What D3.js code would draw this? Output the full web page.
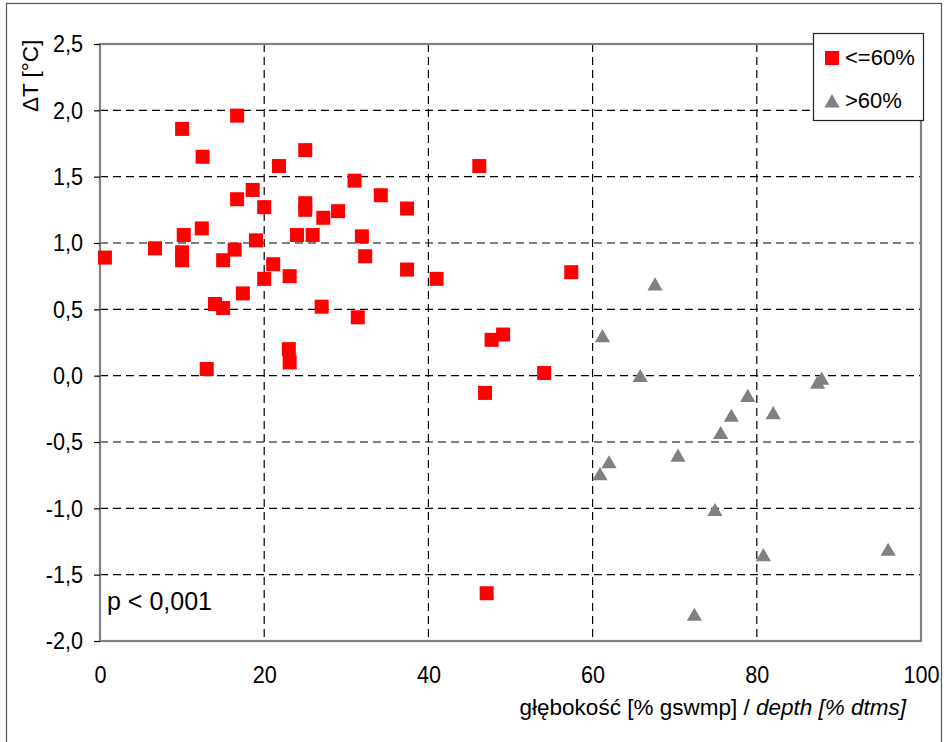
<!DOCTYPE html>
<html>
<head>
<meta charset="utf-8">
<script src="https://cdn.jsdelivr.net/npm/d3@7"></script>
<style>
  html, body { margin: 0; padding: 0; background: #fff; }
  svg { display: block; font-family: "Liberation Sans", Arial, sans-serif; }
</style>
</head>
<body>
<svg id="chart" width="944" height="742"></svg>
<script>
// ---- data ----
const redX = [0.6, 6.7, 10.0, 10.2, 10.0, 10.0, 12.5, 12.4, 13.0, 14.0, 15.0, 15.0, 16.7, 16.7, 16.4, 17.4,
  18.6, 19.0, 20.0, 20.0, 21.1, 21.8, 23.0, 23.1, 23.1, 24.0, 25.0, 25.0, 25.0, 25.9, 27.0, 27.2,
  29.0, 31.0, 31.4, 31.9, 32.3, 34.2, 37.4, 37.4, 41.0, 46.2, 46.9, 47.1, 47.7, 49.1, 54.1, 57.4];
const redY = [0.89, 0.96, 1.86, 1.06, 0.93, 0.87, 1.65, 1.11, 0.05, 0.54, 0.51, 0.87, 1.96, 1.33, 0.95, 0.62,
  1.40, 1.02, 1.27, 0.73, 0.84, 1.58, 0.20, 0.10, 0.75, 1.06, 1.70, 1.30, 1.25, 1.06, 0.52, 1.19,
  1.24, 1.47, 0.44, 1.05, 0.90, 1.36, 1.26, 0.80, 0.73, 1.58, -0.13, -1.64, 0.27, 0.31, 0.02, 0.78];
const grayX = [67.6, 61.2, 65.8, 87.4, 87.9, 78.9, 82.0, 76.9, 75.6, 70.4, 62.0, 60.9, 74.9, 80.8, 96.0, 72.4];
const grayY = [0.69, 0.30, 0.00, -0.05, -0.02, -0.15, -0.28, -0.30, -0.43, -0.60, -0.65, -0.74, -1.01, -1.35, -1.31, -1.80];
const xTicks = [0, 20, 40, 60, 80, 100];
const yTicks = [-2.0, -1.5, -1.0, -0.5, 0.0, 0.5, 1.0, 1.5, 2.0, 2.5];
const legendLabels = ["<=60%", ">60%"];
const yTitle = "ΔT [°C]";
const xTitlePl = "głębokość [% gswmp] / ";
const xTitleEn = "depth [% dtms]";
const pText = "p < 0,001";

// ---- layout ----
const L = 100, R = 921, T = 44, B = 641;
const svg = d3.select("#chart");
const x = d3.scaleLinear().domain([0, 100]).range([L, R]);
const y = d3.scaleLinear().domain([-2, 2.5]).range([B, T]);
const loc = d3.formatLocale({decimal: ",", thousands: " ", grouping: [3], currency: ["", ""], minus: "-"});
const fmt = loc.format(".1f");

// outer frame
svg.append("rect").attr("x", 6.5).attr("y", 3.5).attr("width", 935).attr("height", 780)
  .attr("fill", "none").attr("stroke", "#555").attr("stroke-width", 1.2);

// grid
const grid = svg.append("g");
grid.selectAll("line.v").data(xTicks.filter(d => d > 0 && d < 100)).join("line")
  .attr("x1", d => x(d)).attr("x2", d => x(d)).attr("y1", T).attr("y2", B)
  .attr("stroke", "#000").attr("stroke-width", 1.2).attr("stroke-dasharray", "8,5");
grid.selectAll("line.h").data(yTicks.filter(d => d > -2 && d < 2.5)).join("line")
  .attr("x1", L).attr("x2", R).attr("y1", d => y(d)).attr("y2", d => y(d))
  .attr("stroke", "#000").attr("stroke-width", 1.2).attr("stroke-dasharray", "8,5");

// plot frame
svg.append("rect").attr("x", L).attr("y", T).attr("width", R - L).attr("height", B - T)
  .attr("fill", "none").attr("stroke", "#808080").attr("stroke-width", 2.2);

// y axis
const yAxis = svg.append("g").attr("transform", `translate(${L},0)`)
  .call(d3.axisLeft(y).tickValues(yTicks).tickFormat(fmt).tickSize(6).tickPadding(13));
yAxis.select(".domain").remove();
yAxis.selectAll(".tick line").attr("stroke", "#000").attr("stroke-width", 1.2);
yAxis.selectAll(".tick text").attr("font-size", 24).attr("fill", "#000")
  .attr("transform", "scale(0.9,1)")
  .attr("font-family", "Liberation Sans, Arial, sans-serif");

// x axis
const xAxis = svg.append("g").attr("transform", `translate(0,${B})`)
  .call(d3.axisBottom(x).tickValues(xTicks).tickFormat(d3.format("d")).tickSize(0).tickPadding(25));
xAxis.select(".domain").remove();
xAxis.selectAll(".tick text").attr("font-size", 24).attr("fill", "#000")
  .attr("transform", "scale(0.9,1)")
  .attr("font-family", "Liberation Sans, Arial, sans-serif");

// points
const red = redX.map((v, i) => ({x: v, y: redY[i]}));
const gray = grayX.map((v, i) => ({x: v, y: grayY[i]}));
svg.append("g").selectAll("rect").data(red).join("rect")
  .attr("x", d => x(d.x) - 7).attr("y", d => y(d.y) - 7)
  .attr("width", 14).attr("height", 14).attr("fill", "#ff0000");
const tri = d3.symbol().type(d3.symbolTriangle).size(100);
svg.append("g").selectAll("path").data(gray).join("path")
  .attr("d", tri).attr("transform", d => `translate(${x(d.x)},${y(d.y) + 2})`)
  .attr("fill", "#808080");

// titles
svg.append("text").attr("transform", "translate(38,112) rotate(-90)")
  .attr("font-size", 22.5).attr("fill", "#000").text(yTitle);
const xt = svg.append("text").attr("x", 906).attr("y", 715).attr("text-anchor", "end")
  .attr("font-size", 22.5).attr("fill", "#000");
xt.append("tspan").text(xTitlePl);
xt.append("tspan").attr("font-style", "italic").text(xTitleEn);

svg.append("text").attr("x", 107).attr("y", 610).attr("font-size", 25).attr("fill", "#000").text(pText);

// legend
const lg = svg.append("g");
lg.append("rect").attr("x", 813.5).attr("y", 33.5).attr("width", 110).attr("height", 87)
  .attr("fill", "#fff").attr("stroke", "#222").attr("stroke-width", 1.2);
lg.append("rect").attr("x", 825).attr("y", 51).attr("width", 14).attr("height", 14).attr("fill", "#ff0000");
lg.append("path").attr("d", tri).attr("transform", "translate(832,103)").attr("fill", "#808080");
lg.selectAll("text").data(legendLabels).join("text")
  .attr("x", 845).attr("y", (d, i) => 65 + i * 42.5).attr("font-size", 22).attr("fill", "#000").text(d => d);
</script>
</body>
</html>
